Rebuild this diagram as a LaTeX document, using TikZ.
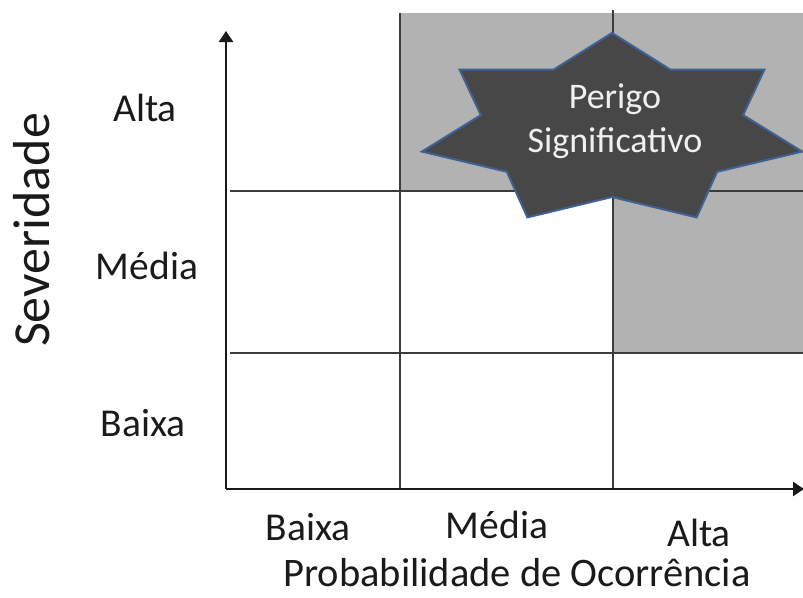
\documentclass[tikz,border=0pt]{standalone}
\usepackage{fontspec}
\setmainfont{Carlito}
\usetikzlibrary{arrows.meta}
\definecolor{cellgray}{HTML}{B1B2B1}
\definecolor{stardark}{HTML}{474747}
\definecolor{starblue}{HTML}{3E6293}
\definecolor{gridline}{HTML}{3C3C3C}
\definecolor{textdark}{HTML}{1A1A1A}
\begin{document}
\begin{tikzpicture}[x=1pt,y=-1pt,
  gridln/.style={draw=gridline,line width=1.6pt},
  axisln/.style={draw=textdark,line width=2.6pt,-{Triangle[length=11pt,width=14pt]}},
  lbl/.style={text=textdark,inner sep=0pt,font=\fontsize{39.5}{44}\selectfont},
  bigl/.style={text=textdark,inner sep=0pt,font=\fontsize{40.5}{46}\selectfont},
  starshape/.style={fill=stardark,draw=starblue,line width=2pt,line join=miter},
  startext/.style={text=white!94!black,align=center,inner sep=0pt,font=\fontsize{36}{44}\selectfont}]
\useasboundingbox (0,0) rectangle (803,597);
% shaded cells
\fill[cellgray] (400,13) rectangle (803,191);
\fill[cellgray] (613,191) rectangle (803,353);
% grid lines
\draw[gridln] (400,13) -- (400,489);
\draw[gridln] (613,10) -- (613,489);
\draw[gridln] (230,191) -- (803,191);
\draw[gridln] (230,353) -- (803,353);
% axes
\coordinate (O) at (226,489);
\coordinate (ytip) at (226,31);
\coordinate (xtip) at (804,489);
\draw[axisln] (O) -- (ytip);
\draw[axisln] (O) -- (xtip);
% seven-pointed star
\filldraw[starshape] (612,33)
  \foreach \k in {0,...,6}{
    -- ({612+134.5*cos(90+\k*360/7+180/7)},{130-67*sin(90+\k*360/7+180/7)})
    -- ({612+195*cos(90+(\k+1)*360/7)},{130-97*sin(90+(\k+1)*360/7)})
  } -- cycle;
\node[startext] (perigo) at (615,121) {Perigo\\Significativo};
% labels
\node[rotate=90,text=textdark,inner sep=0pt,font=\fontsize{52}{60}\selectfont] (sev) at (32,230) {Severidade};
\node[lbl] (sa) at (145,108) {Alta};
\node[lbl] (sm) at (147,266) {Média};
\node[lbl] (sb) at (143,423) {Baixa};
\node[lbl] (pb) at (308,527) {Baixa};
\node[lbl] (pm) at (497,525) {Média};
\node[lbl] (pa) at (699,533) {Alta};
\node[bigl] (prob) at (517,573) {Probabilidade de Ocorrência};
\end{tikzpicture}
\end{document}
